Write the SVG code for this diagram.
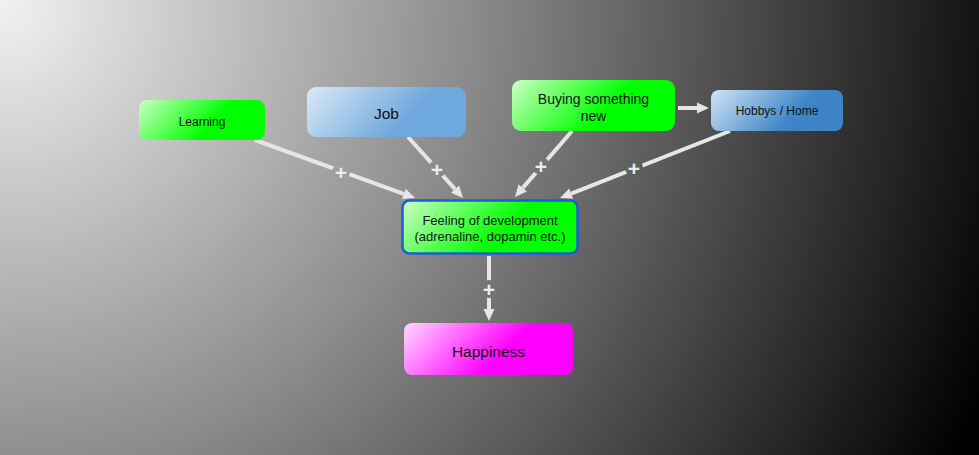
<svg xmlns="http://www.w3.org/2000/svg" width="979" height="455" viewBox="0 0 979 455">
<defs>
<radialGradient id="bg" cx="0" cy="0" r="1060" gradientUnits="userSpaceOnUse">
<stop offset="0" stop-color="#f2f2f2"/>
<stop offset="0.45" stop-color="#8a8a8a"/>
<stop offset="1" stop-color="#000"/>
</radialGradient>
<linearGradient id="green" x1="0" y1="0" x2="1" y2="0.3">
<stop offset="0" stop-color="#ccffc4"/>
<stop offset="0.7" stop-color="#00ff00"/>
<stop offset="1" stop-color="#00ff00"/>
</linearGradient>
<linearGradient id="blue1" x1="0" y1="0" x2="1" y2="0.3">
<stop offset="0" stop-color="#dce9f7"/>
<stop offset="0.75" stop-color="#6fa8dc"/>
<stop offset="1" stop-color="#6fa8dc"/>
</linearGradient>
<linearGradient id="blue2" x1="0" y1="0" x2="1" y2="0.3">
<stop offset="0" stop-color="#d2e4f5"/>
<stop offset="0.75" stop-color="#3d85c6"/>
<stop offset="1" stop-color="#3d85c6"/>
</linearGradient>
<linearGradient id="mag" x1="0" y1="0" x2="1" y2="0.3">
<stop offset="0" stop-color="#ffd8ff"/>
<stop offset="0.7" stop-color="#ff00ff"/>
<stop offset="1" stop-color="#ff00ff"/>
</linearGradient>
<marker id="ah" markerUnits="userSpaceOnUse" markerWidth="12" markerHeight="12" refX="0" refY="6" orient="auto">
<path d="M0,0.5 L12,6 L0,11.5 z" fill="#e6e6e6"/>
</marker>
<mask id="gaps" maskUnits="userSpaceOnUse" x="0" y="0" width="979" height="455">
<rect width="979" height="455" fill="#fff"/>
<circle cx="341" cy="172" r="9" fill="#000"/>
<circle cx="437" cy="169" r="9" fill="#000"/>
<circle cx="541" cy="166" r="9" fill="#000"/>
<circle cx="634" cy="168" r="9" fill="#000"/>
<circle cx="489" cy="289" r="9" fill="#000"/>
</mask>
</defs>
<style>
.lbl{font-family:"Liberation Sans",Arial,sans-serif;fill:#111;text-anchor:middle;dominant-baseline:central}
.plus{font-family:"Liberation Sans",Arial,sans-serif;font-weight:bold;font-size:21px;fill:#ececec;text-anchor:middle;dominant-baseline:central}
.ln{stroke:#e6e6e6;stroke-width:4;fill:none;marker-end:url(#ah)}
</style>
<rect width="979" height="455" fill="url(#bg)"/>
<g id="connectors">
<g mask="url(#gaps)">
<line class="ln" x1="255" y1="140" x2="403.7" y2="193.9"/>
<line class="ln" x1="408" y1="137" x2="455" y2="189.1"/>
<line class="ln" x1="572" y1="131" x2="522.8" y2="187.9"/>
<line class="ln" x1="730" y1="131" x2="571.2" y2="193.6"/>
<line class="ln" x1="489" y1="256" x2="489" y2="309"/>
</g>
<line class="ln" x1="678" y1="108" x2="697" y2="108"/>
<text class="plus" x="341" y="172">+</text>
<text class="plus" x="437" y="169">+</text>
<text class="plus" x="541" y="166">+</text>
<text class="plus" x="634" y="168">+</text>
<text class="plus" x="489" y="289">+</text>
</g>
<g id="learning">
<rect x="139" y="100" width="126" height="40" rx="8" fill="url(#green)"/>
<text class="lbl" x="202" y="121.5" font-size="12">Learning</text>
</g>
<g id="job">
<rect x="307" y="87" width="159" height="50" rx="9" fill="url(#blue1)"/>
<text class="lbl" x="386.5" y="113.5" font-size="15.5">Job</text>
</g>
<g id="buying">
<rect x="512" y="80" width="163" height="51" rx="9" fill="url(#green)"/>
<text class="lbl" x="593.5" y="99" font-size="14">Buying something</text>
<text class="lbl" x="593.5" y="116" font-size="14">new</text>
</g>
<g id="hobbys">
<rect x="711" y="90" width="132" height="41" rx="8" fill="url(#blue2)"/>
<text class="lbl" x="777" y="111" font-size="12">Hobbys / Home</text>
</g>
<g id="feeling">
<rect x="402.5" y="200.5" width="175" height="53" rx="7" fill="url(#green)" stroke="#1a5fcf" stroke-width="2.5"/>
<text class="lbl" x="490" y="220" font-size="13">Feeling of development</text>
<text class="lbl" x="490" y="236" font-size="13">(adrenaline, dopamin etc.)</text>
</g>
<g id="happiness">
<rect x="404" y="323" width="169" height="52" rx="8" fill="url(#mag)"/>
<text class="lbl" x="488.5" y="351.5" font-size="15.5">Happiness</text>
</g>
</svg>
